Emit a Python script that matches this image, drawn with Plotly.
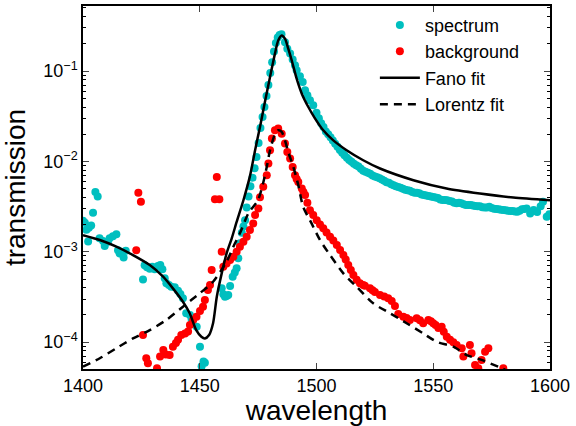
import plotly.graph_objects as go

# ---- data ----
spec_wl = [1400.0, 1400.8, 1401.5, 1402.2, 1402.5, 1403.5, 1404.3, 1405.3, 1406.3,
           1407.1, 1408.6, 1409.3, 1410.7, 1411.4, 1412.8, 1414.3, 1415.0, 1415.7,
           1417.4, 1418.3,
           1425.7, 1426.4, 1427.4, 1428.6, 1429.7, 1430.7, 1432.1, 1433.1, 1434.0,
           1435.0, 1435.7, 1436.8, 1437.8, 1439.3, 1440.7, 1441.7, 1442.8, 1444.2,
           1445.8, 1446.5, 1448.7, 1450.1, 1450.8, 1451.6, 1452.2,
           1459.4, 1460.1, 1460.8, 1461.5, 1462.2, 1463.0, 1464.1, 1465.0, 1465.8,
           1466.5, 1467.2, 1468.0, 1468.7, 1469.4, 1470.1, 1470.9, 1471.7, 1472.6,
           1473.5, 1474.3, 1475.2, 1476.0, 1476.9, 1477.7, 1478.6, 1479.4, 1480.2,
           1481.0, 1481.8, 1482.6, 1483.4, 1484.2, 1485.0,
           1486.5, 1487.5, 1488.7, 1489.8, 1490.8, 1491.5, 1492.9, 1494.1, 1495.1,
           1496.1, 1497.2, 1498.6,
           1500, 1501, 1502, 1503, 1504, 1505, 1506, 1507, 1508, 1509, 1510, 1511,
           1512, 1513, 1514, 1515, 1516, 1517, 1518, 1519, 1520, 1521, 1522, 1523,
           1524, 1525, 1526, 1527, 1528, 1529, 1530, 1531, 1532, 1533, 1534, 1535,
           1536, 1537, 1538, 1539, 1540, 1541, 1542, 1543, 1544, 1545, 1546, 1547,
           1548, 1549, 1550, 1551, 1552, 1553, 1554, 1555, 1556, 1557, 1558, 1559,
           1560, 1561, 1562, 1563, 1564, 1565, 1566, 1567, 1568, 1569, 1570, 1571,
           1572, 1573, 1574, 1575, 1576, 1577, 1578, 1579, 1580, 1581, 1582, 1583,
           1584, 1585, 1586, 1587, 1588, 1589, 1590, 1591.5, 1593, 1594.5, 1596,
           1597, 1598.6, 1599.7]
spec_t = [2.2e-3, 2.1e-3, 1.75e-3, 1.3e-3, 1.85e-3, 1.95e-3, 2.7e-3, 4.6e-3, 4.1e-3,
          1.41e-3, 1.32e-3, 1.16e-3, 1.29e-3, 1.41e-3, 1.49e-3, 1.56e-3, 1.04e-3, 9.6e-4,
          8.67e-4, 1.03e-3,
          4.95e-4, 7.1e-4, 6.73e-4, 6.5e-4, 6.83e-4, 6.4e-4, 6.95e-4, 7.13e-4, 6.39e-4,
          5.1e-4, 4.48e-4, 4.29e-4, 4.1e-4, 4.04e-4, 3.71e-4, 3.41e-4, 3.06e-4, 2.09e-4,
          2.0e-4, 1.8e-4, 1.48e-4, 8.9e-5, 5.4e-5, 6.1e-5, 5.9e-5,
          3.94e-4, 3.4e-4, 3.18e-4, 3.25e-4, 3.32e-4, 4.18e-4, 5.3e-4, 5.9e-4, 6.56e-4,
          8.5e-4, 1.24e-3, 1.62e-3, 1.9e-3, 2.24e-3, 3.1e-3, 4.1e-3, 5.3e-3, 6.6e-3,
          8.4e-3, 1.12e-2, 1.6e-2, 2.35e-2, 3.1e-2, 4.0e-2, 5.3e-2, 7.0e-2, 9.5e-2,
          0.125, 0.165, 0.205, 0.235, 0.250, 0.255,
          0.209, 0.177, 0.156, 0.134, 0.116, 0.102, 8.74e-2, 7.56e-2, 6.12e-2,
          5.39e-2, 4.75e-2, 4.18e-2,
          3.45e-2, 3.0e-2, 2.65e-2, 2.4e-2, 2.15e-2, 2.0e-2, 1.85e-2, 1.7e-2, 1.57e-2,
          1.45e-2, 1.34e-2, 1.25e-2, 1.17e-2, 1.1e-2, 1.04e-2, 9.9e-3, 9.4e-3, 9.1e-3,
          8.8e-3, 8.3e-3, 7.9e-3, 7.7e-3, 7.5e-3, 7.3e-3, 7.0e-3, 6.8e-3, 6.7e-3,
          6.5e-3, 6.3e-3, 6.1e-3, 5.9e-3, 5.8e-3, 5.6e-3, 5.45e-3, 5.3e-3, 5.2e-3,
          5.1e-3, 5.0e-3, 4.85e-3, 4.8e-3, 4.75e-3, 4.6e-3, 4.5e-3, 4.5e-3, 4.45e-3,
          4.3e-3, 4.25e-3, 4.2e-3, 4.15e-3, 4.1e-3, 4.05e-3, 4.0e-3, 3.95e-3, 3.8e-3,
          3.75e-3, 3.75e-3, 3.72e-3, 3.65e-3, 3.6e-3, 3.5e-3, 3.45e-3, 3.5e-3, 3.45e-3,
          3.35e-3, 3.3e-3, 3.3e-3, 3.3e-3, 3.25e-3, 3.22e-3, 3.2e-3, 3.2e-3, 3.12e-3,
          3.1e-3, 3.1e-3, 3.15e-3, 3.05e-3, 3.0e-3, 2.98e-3, 2.95e-3, 2.92e-3, 2.9e-3,
          2.88e-3, 2.85e-3, 2.83e-3, 2.82e-3, 2.8e-3, 2.78e-3, 2.85e-3, 2.95e-3, 2.98e-3,
          3.02e-3, 2.66e-3, 2.9e-3, 2.75e-3, 3.2e-3, 3.57e-3, 2.44e-3, 2.6e-3]

bg_wl = [1422.8, 1423.7, 1424.8, 1425.7, 1427.1, 1427.8, 1431.7, 1433.0, 1434.4,
         1435.5, 1437.1, 1438.5, 1439.8, 1440.7, 1442.1, 1443.7, 1445.0, 1445.8,
         1447.2, 1448.6, 1450.1, 1451.4, 1452.2, 1453.5, 1454.4, 1455.1, 1456.5,
         1457.3, 1458.4, 1459.4, 1460.1, 1461.5, 1463.0, 1464.4, 1465.8, 1467.2,
         1468.7, 1470.1, 1471.5, 1472.9, 1473.7, 1475.1, 1475.8, 1477.2, 1478.7,
         1479.4, 1480.1, 1480.9, 1482.2, 1483.6, 1485.1, 1486.5, 1487.5, 1488.7,
         1489.8, 1490.8, 1491.5, 1492.2, 1493.7, 1494.4, 1495.1, 1496.1, 1497.2,
         1498.6, 1500.1, 1501.5, 1502.9, 1504.3, 1505.8, 1507.2, 1508.7, 1510.1,
         1511.5, 1512.5, 1513.6, 1514.7, 1515.8, 1517.2, 1518.6, 1520.0, 1520.7,
         1522.9, 1524.0, 1525.0, 1527.2, 1529.0, 1530.7, 1532.2, 1533.6, 1535.0,
         1537.2, 1538.6, 1540.0, 1542.9, 1544.3, 1545.7, 1547.9, 1549.0, 1550.0,
         1551.0, 1552.2, 1553.6, 1554.5, 1555.8, 1557.2, 1558.6, 1560.0, 1562.2,
         1562.9, 1565.7, 1566.4, 1567.9, 1569.3, 1570.7, 1572.2, 1573.6, 1580.0]
bg_t = [1.04e-3, 4.49e-3, 3.57e-3, 1.2e-4, 6.64e-5, 5.85e-5, 5.15e-5, 6.92e-5, 8.2e-5,
        7.3e-5, 7.2e-5, 8.9e-5, 9.8e-5, 1.06e-4, 1.2e-4, 1.25e-4, 1.31e-4, 1.55e-4,
        1.76e-4, 1.91e-4, 2.21e-4, 2.47e-4, 2.92e-4, 3.77e-4, 4.29e-4, 6.28e-4, 3.82e-3,
        6.74e-3, 3.82e-3, 1.0e-3, 6.83e-4, 7.44e-4, 8.1e-4, 8.8e-4, 1.0e-3, 1.14e-3,
        1.29e-3, 1.47e-3, 1.74e-3, 2.06e-3, 2.55e-3, 3.02e-3, 4.02e-3, 5.23e-3, 7.04e-3,
        9.5e-3, 1.33e-2, 1.79e-2, 2.21e-2, 2.31e-2, 2.03e-2, 1.58e-2, 1.27e-2, 1.08e-2,
        8.7e-3, 7.04e-3, 6.4e-3, 5.93e-3, 5.02e-3, 4.6e-3, 4.24e-3, 3.5e-3, 2.89e-3,
        2.55e-3, 2.24e-3, 2.0e-3, 1.82e-3, 1.63e-3, 1.47e-3, 1.33e-3, 1.19e-3, 1.05e-3,
        9.2e-4, 8.2e-4, 7.13e-4, 6.3e-4, 5.53e-4, 4.9e-4, 4.48e-4, 4.3e-4, 4.2e-4,
        3.94e-4, 3.75e-4, 3.6e-4, 3.32e-4, 3.2e-4, 3.06e-4, 2.85e-4, 2.51e-4, 2.05e-4,
        1.91e-4, 1.85e-4, 1.76e-4, 1.84e-4, 1.75e-4, 1.62e-4, 1.76e-4, 1.7e-4, 1.62e-4,
        1.55e-4, 1.43e-4, 1.48e-4, 1.3e-4, 1.15e-4, 1.06e-4, 1.0e-4, 9.3e-5, 8.57e-5,
        6.92e-5, 9.3e-5, 7.53e-5, 5.6e-5, 5.15e-5, 6.36e-5, 7.85e-5, 8.57e-5, 5.15e-5]

fano_wl = [1400, 1407.2, 1414.3, 1421.4, 1428.6, 1434.3, 1438.5, 1442.8, 1445.7, 1448.5,
           1450.7, 1452.2, 1454.0, 1455.7, 1457.3, 1459.4, 1461.5, 1463.7, 1465.8, 1468.7,
           1471.5, 1473.7, 1475.8, 1477.9, 1480.1, 1482.2, 1483.6, 1485.1, 1486.5, 1487.9,
           1489.4, 1491.5, 1493.7, 1496.5, 1499.4, 1502.9, 1507.2, 1512.9, 1520.0, 1527.2,
           1541.5, 1555.7, 1570.0, 1584.3, 1600]
fano_t = [1.53e-3, 1.35e-3, 1.14e-3, 9.2e-4, 7.13e-4, 5.3e-4, 3.94e-4, 2.8e-4, 2.09e-4, 1.36e-4,
          1.15e-4, 1.10e-4, 1.2e-4, 1.62e-4, 3.18e-4, 5.77e-4, 9.6e-4, 1.41e-3, 2.14e-3, 3.72e-3,
          6.87e-3, 1.33e-2, 2.41e-2, 4.54e-2, 8.58e-2, 0.156, 0.218, 0.248, 0.228, 0.177,
          0.131, 8.24e-2, 5.62e-2, 4.0e-2, 2.98e-2, 2.21e-2, 1.71e-2, 1.33e-2, 1.03e-2, 8.35e-3,
          6.2e-3, 5.02e-3, 4.42e-3, 3.99e-3, 3.72e-3]

lor_wl = [1400, 1407.2, 1414.3, 1421.4, 1428.6, 1435.7, 1442.8, 1450.0, 1455.7, 1461.5,
          1464.4, 1467.2, 1470.8, 1474.9, 1477.1, 1478.7, 1480.1, 1482.2, 1483.6, 1485.1,
          1486.5, 1487.9, 1490.1, 1492.2, 1494.3, 1497.9, 1501.5, 1505.8, 1511.5, 1517.2,
          1524.3, 1531.5, 1538.6, 1545.7, 1551.5, 1558.6, 1564.3, 1570.7, 1579.3, 1581.0]
lor_t = [5.36e-5, 6.64e-5, 8.57e-5, 1.10e-4, 1.36e-4, 1.76e-4, 2.47e-4, 3.47e-4, 4.66e-4, 7.76e-4,
         1.14e-3, 1.6e-3, 2.66e-3, 3.71e-3, 5.7e-3, 8.7e-3, 1.33e-2, 2.0e-2, 2.21e-2, 2.12e-2,
         1.71e-2, 1.27e-2, 8.7e-3, 5.46e-3, 3.14e-3, 2.06e-3, 1.35e-3, 9.2e-4, 5.77e-4, 4.1e-4,
         2.69e-4, 2.09e-4, 1.62e-4, 1.25e-4, 1.01e-4, 8.9e-5, 7.2e-5, 6.36e-5, 5.15e-5, 4.9e-5]

x_ticks = [1400, 1450, 1500, 1550, 1600]
y_ticks = [1e-4, 1e-3, 1e-2, 1e-1]
y_tick_text = ["10<sup>\u22124</sup>", "10<sup>\u22123</sup>", "10<sup>\u22122</sup>", "10<sup>\u22121</sup>"]

CYAN = "#00BFBF"
RED = "#FF0000"
FONT = "Liberation Sans, Arial, Helvetica, sans-serif"

fig = go.Figure()
fig.add_trace(go.Scatter(x=spec_wl, y=spec_t, mode="markers", name="spectrum",
                         marker=dict(color=CYAN, size=8, line=dict(width=0))))
fig.add_trace(go.Scatter(x=bg_wl, y=bg_t, mode="markers", name="background",
                         marker=dict(color=RED, size=8, line=dict(width=0))))
fig.add_trace(go.Scatter(x=fano_wl, y=fano_t, mode="lines", name="Fano fit",
                         line=dict(color="black", width=2.5, shape="spline", smoothing=0.7)))
fig.add_trace(go.Scatter(x=lor_wl, y=lor_t, mode="lines", name="Lorentz fit",
                         line=dict(color="black", width=2.5, dash="8px,6px", shape="spline", smoothing=0.7)))

fig.update_layout(
    width=576, height=426,
    margin=dict(l=83, r=26, t=6, b=57),
    paper_bgcolor="white", plot_bgcolor="white",
    font=dict(family=FONT, color="black", size=18),
    showlegend=True,
    legend=dict(x=0.625, y=0.998, xanchor="left", yanchor="top",
                bgcolor="rgba(0,0,0,0)", borderwidth=0,
                font=dict(size=18, family=FONT), itemwidth=40),
    xaxis=dict(range=[1400, 1600], tickvals=x_ticks, ticks="inside", ticklen=6,
               tickwidth=1, showline=True, linecolor="black", linewidth=1.5,
               mirror="ticks", showgrid=False, zeroline=False, automargin=False,
               tickfont=dict(size=18, family=FONT),
               title=dict(text="wavelength", font=dict(size=28, family=FONT), standoff=6)),
    yaxis=dict(type="log", range=[-4.297, -0.28], tickvals=y_ticks, ticktext=y_tick_text,
               ticks="inside", ticklen=6, tickwidth=1, showline=True, linecolor="black",
               linewidth=1.5, mirror="ticks", showgrid=False, zeroline=False, automargin=False,
               minor=dict(dtick="D1", ticks="inside", ticklen=3, tickcolor="black", showgrid=False),
               tickfont=dict(size=18, family=FONT),
               title=dict(text="transmission", font=dict(size=28, family=FONT), standoff=9)),
)

fig.write_html("out.html", config={"displayModeBar": False},
               post_script="document.body.style.margin='0';document.body.style.padding='0';")
